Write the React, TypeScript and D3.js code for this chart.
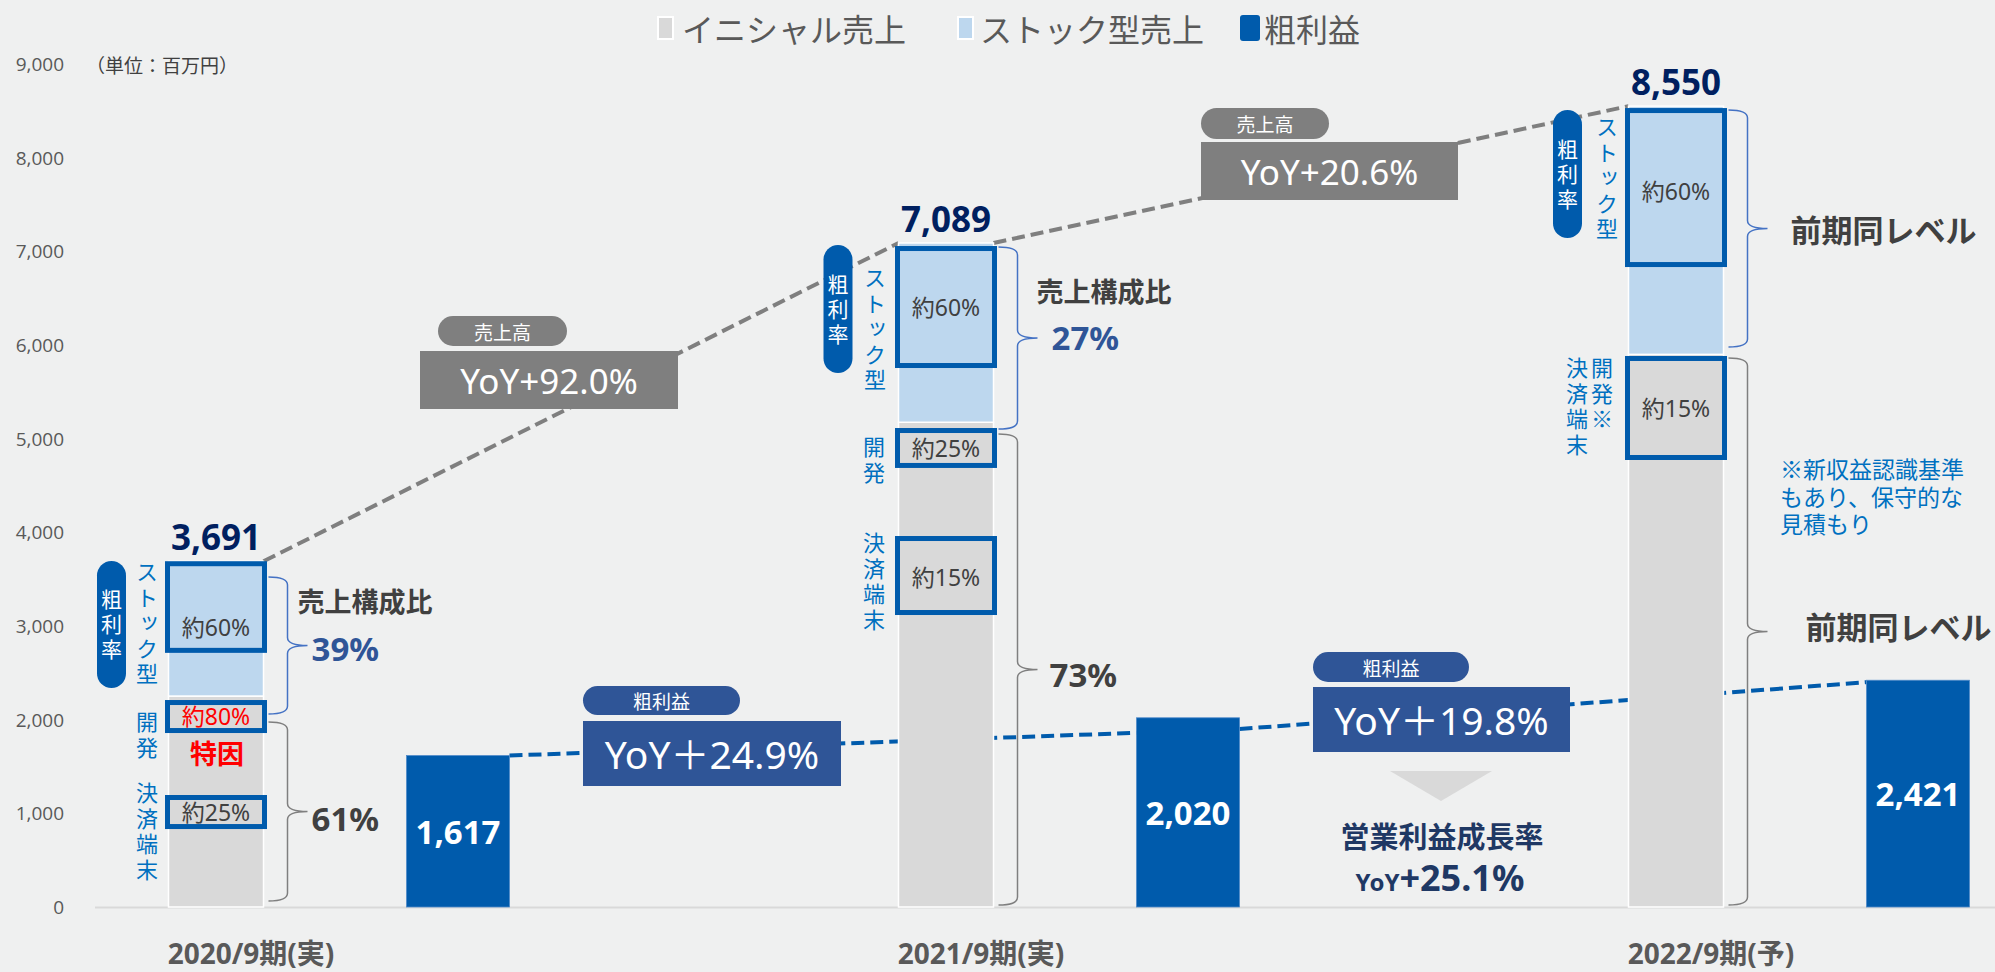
import React from 'react';
import * as d3 from 'd3';

// ---------- data ----------
const categories = ['2020/9期(実)', '2021/9期(実)', '2022/9期(予)'];
const initialSales = [2252, 5175, 5900];
const stockSales = [1439, 1914, 2650];
const totalSales = [3691, 7089, 8550];
const grossProfit = [1617, 2020, 2421];
const yTicks = [0, 1000, 2000, 3000, 4000, 5000, 6000, 7000, 8000, 9000];
// blue dashed trend between gross profit bars (start / end values of each segment)
const gpTrendStart = [1617, 1900];
const gpTrendEnd = [1860, 2400];

// gross-margin boxes: category index, top/bottom value, label, label value
const marginBoxes = [
  { i: 0, top: 3665, bottom: 2740, label: '約60%', at: 2989, kind: 'stock', red: false },
  { i: 0, top: 2183, bottom: 1884, label: '約80%', at: 2034, kind: 'initial', red: true },
  { i: 0, top: 1169, bottom: 859, label: '約25%', at: 1014, kind: 'initial', red: false },
  { i: 1, top: 7030, bottom: 5781, label: '約60%', at: 6405, kind: 'stock', red: false },
  { i: 1, top: 5087, bottom: 4714, label: '約25%', at: 4900, kind: 'initial', red: false },
  { i: 1, top: 3934, bottom: 3144, label: '約15%', at: 3523, kind: 'initial', red: false },
  { i: 2, top: 8503, bottom: 6859, label: '約60%', at: 7644, kind: 'stock', red: false },
  { i: 2, top: 5856, bottom: 4799, label: '約15%', at: 5327, kind: 'initial', red: false },
];

// vertical blue captions: category index, x offset from bar centre, first char value
const verticalCaptions = [
  { i: 0, dx: -69, at: 3576, text: 'ストック型' },
  { i: 0, dx: -69, at: 1975, text: '開発' },
  { i: 0, dx: -69, at: 1217, text: '決済端末' },
  { i: 1, dx: -71, at: 6715, text: 'ストック型' },
  { i: 1, dx: -72, at: 4911, text: '開発' },
  { i: 1, dx: -72, at: 3886, text: '決済端末' },
  { i: 2, dx: -69, at: 8327, text: 'ストック型' },
  { i: 2, dx: -74, at: 5754, text: '開発※' },
  { i: 2, dx: -99, at: 5754, text: '決済端末' },
];

// 粗利率 pills: category index, x offset, top / bottom value
const marginPills = [
  { i: 0, dx: -104.5, top: 3694, bottom: 2338 },
  { i: 1, dx: -108, top: 7067, bottom: 5701 },
  { i: 2, dx: -108.5, top: 8509, bottom: 7142 },
];

// braces: category index, top / bottom value, kind
const braces = [
  { i: 0, top: 3523, bottom: 2060, kind: 'stock' },
  { i: 0, top: 1975, bottom: 64, kind: 'initial' },
  { i: 1, top: 7046, bottom: 5103, kind: 'stock' },
  { i: 1, top: 5050, bottom: 21, kind: 'initial' },
  { i: 2, top: 8509, bottom: 5978, kind: 'stock' },
  { i: 2, top: 5861, bottom: 21, kind: 'initial' },
];

// brace texts: category index, x offset from bar right edge, value (vertical centre)
const braceTexts = [
  { i: 0, dx: 34, at: 3277, text: '売上構成比', kind: 'title' },
  { i: 0, dx: 48, at: 2765, text: '39%', kind: 'stockPct' },
  { i: 0, dx: 48, at: 950, text: '61%', kind: 'initPct' },
  { i: 1, dx: 43, at: 6587, text: '売上構成比', kind: 'title' },
  { i: 1, dx: 58, at: 6075, text: '27%', kind: 'stockPct' },
  { i: 1, dx: 56, at: 2487, text: '73%', kind: 'initPct' },
  { i: 2, dx: 67, at: 7249, text: '前期同レベル', kind: 'level' },
  { i: 2, dx: 82, at: 3010, text: '前期同レベル', kind: 'level' },
];
const noteLines = ['※新収益認識基準', 'もあり、保守的な', '見積もり'];

const callouts = [
  { pill: [438, 316, 129, 30], box: [420, 351, 258, 58], tag: '売上高', text: 'YoY+92.0%', color: '#7f7f7f', fs: 35 },
  { pill: [1201, 108, 128, 31], box: [1201, 142, 257, 58], tag: '売上高', text: 'YoY+20.6%', color: '#7f7f7f', fs: 35 },
  { pill: [583, 686, 157, 29], box: [583, 721, 258, 65], tag: '粗利益', text: 'YoY＋24.9%', color: '#2F5597', fs: 39 },
  { pill: [1313, 652, 156, 30], box: [1313, 687, 257, 65], tag: '粗利益', text: 'YoY＋19.8%', color: '#2F5597', fs: 39 },
];

const legendItems = [
  { label: 'イニシャル売上', color: '#d9d9d9' },
  { label: 'ストック型売上', color: '#bdd7ee' },
  { label: '粗利益', color: '#005BAC' },
];

// ---------- style ----------
const W = 1995;
const H = 972;
const BG = '#eff0f0';
const GRAY = '#d9d9d9';
const LIGHT = '#bdd7ee';
const DARK = '#005BAC';
const NAVY = '#002060';
const JP = '"Noto Sans CJK JP", "Noto Sans", sans-serif';
const LAT = '"Noto Sans", "Noto Sans CJK JP", sans-serif';

export default function App() {
  const y = d3.scaleLinear().domain([0, 9000]).range([907, 64]);
  const x = d3.scalePoint<string>().domain(categories).range([216, 1676]);
  const stackW = 95;
  const gpOffset = 242;
  const gpW = 103;

  const rows = categories.map((c, i) => ({ cat: c, initial: initialSales[i], stock: stockSales[i] }));
  const series = d3.stack<any>().keys(['initial', 'stock'])(rows);
  const cx = (i: number) => x(categories[i]) as number;
  const gx = (i: number) => cx(i) + gpOffset;

  const line = d3.line<[number, number]>();

  const salesSegs = d3.range(categories.length - 1).map((i) =>
    line([
      [cx(i) + stackW / 2, y(totalSales[i])],
      [cx(i + 1) - stackW / 2, y(totalSales[i + 1])],
    ])
  );
  const gpSegs = d3.range(categories.length - 1).map((i) =>
    line([
      [gx(i) + gpW / 2, y(gpTrendStart[i])],
      [gx(i + 1) - gpW / 2, y(gpTrendEnd[i])],
    ])
  );

  const bracePath = (x0: number, yt: number, yb: number) => {
    const x1 = x0 + 19;
    const x2 = x0 + 39;
    const r = 8;
    const ym = (yt + yb) / 2;
    return `M${x0},${yt} Q${x1},${yt} ${x1},${yt + r} L${x1},${ym - r} Q${x1},${ym} ${x2},${ym} Q${x1},${ym} ${x1},${ym + r} L${x1},${yb - r} Q${x1},${yb} ${x0},${yb}`;
  };

  const legendX = [658, 958, 1240];
  const legendTx = [682, 980, 1264];

  const vFs = 22;
  const vStep = 25.5;

  return (
    <div style={{ position: 'absolute', left: 0, top: 0, width: W, height: H }}>
      <svg width={W} height={H} style={{ display: 'block' }}>
        <rect x={0} y={0} width={W} height={H} fill={BG} />

        {/* legend */}
        {legendItems.map((d, k) => (
          <g key={k}>
            {k < 2 ? (
              <rect x={legendX[k]} y={17} width={15} height={22} fill={d.color} stroke="#fff" strokeWidth={2} />
            ) : (
              <rect x={legendX[k]} y={15} width={20} height={26} rx={3} fill={d.color} />
            )}
            <text x={legendTx[k]} y={28} fontSize={32} fontFamily={JP} fill="#595959" dominantBaseline="central">
              {d.label}
            </text>
          </g>
        ))}

        {/* y axis labels */}
        {yTicks.map((t) => (
          <text key={t} x={64} y={y(t)} textAnchor="end" dominantBaseline="central" fontSize={19} fontFamily='"Open Sans", sans-serif' fill="#595959">
            {d3.format(',')(t)}
          </text>
        ))}
        <text x={86} y={y(9000)} dominantBaseline="central" fontSize={19} fontFamily={JP} fill="#404040">
          （単位：百万円）
        </text>

        {/* axis line */}
        <line x1={95} x2={W} y1={y(0) + 0.5} y2={y(0) + 0.5} stroke="#d9d9d9" strokeWidth={2} />

        {/* dashed series lines */}
        {salesSegs.map((p, k) => (
          <path key={'s' + k} d={p || ''} stroke="#7f7f7f" strokeWidth={4} strokeDasharray="13,6" fill="none" />
        ))}
        {gpSegs.map((p, k) => (
          <path key={'g' + k} d={p || ''} stroke={DARK} strokeWidth={4} strokeDasharray="13,6" fill="none" />
        ))}

        {/* stacked sales bars */}
        {series.map((s, si) =>
          s.map((d, i) => (
            <rect
              key={si + '-' + i}
              x={cx(i) - stackW / 2}
              y={y(d[1])}
              width={stackW}
              height={y(d[0]) - y(d[1])}
              fill={si === 0 ? GRAY : LIGHT}
              stroke="#fff"
              strokeWidth={1.5}
            />
          ))
        )}

        {/* gross profit bars */}
        {grossProfit.map((v, i) => (
          <g key={'gp' + i}>
            <rect x={gx(i) - gpW / 2} y={y(v)} width={gpW} height={y(0) - y(v)} fill={DARK} stroke="#4f8ac9" strokeWidth={0.8} />
            <text x={gx(i)} y={(y(v) + y(0)) / 2} textAnchor="middle" dominantBaseline="central" fontSize={33} fontWeight="bold" fontFamily={LAT} fill="#fff">
              {d3.format(',')(v)}
            </text>
          </g>
        ))}

        {/* total labels */}
        {totalSales.map((v, i) => (
          <text key={'t' + i} x={cx(i)} y={y(v) - 11} textAnchor="middle" fontSize={35} fontWeight="bold" fontFamily={LAT} fill={NAVY}>
            {d3.format(',')(v)}
          </text>
        ))}

        {/* margin boxes */}
        {marginBoxes.map((b, k) => (
          <g key={'mb' + k}>
            <rect
              x={cx(b.i) - stackW / 2 - 1}
              y={y(b.top)}
              width={stackW + 2}
              height={y(b.bottom) - y(b.top)}
              fill={b.kind === 'stock' ? LIGHT : GRAY}
              stroke={DARK}
              strokeWidth={5}
            />
            <text x={cx(b.i)} y={y(b.at)} textAnchor="middle" dominantBaseline="central" fontSize={23} fontFamily={LAT} fill={b.red ? '#ff0000' : '#404040'}>
              {b.label}
            </text>
          </g>
        ))}
        <text x={cx(0) + 1} y={752} textAnchor="middle" dominantBaseline="central" fontSize={27} fontWeight="bold" fontFamily={JP} fill="#ff0000">
          特因
        </text>

        {/* vertical captions */}
        {verticalCaptions.map((c, k) => (
          <text
            key={'vc' + k}
            x={cx(c.i) + c.dx}
            y={y(c.at) - vFs / 2}
            writingMode="vertical-rl"
            style={{ letterSpacing: `${vStep - vFs}px` }}
            fontSize={vFs}
            fontFamily={JP}
            fill="#0070C0"
          >
            {c.text}
          </text>
        ))}

        {/* 粗利率 pills */}
        {marginPills.map((p, k) => {
          const px = cx(p.i) + p.dx;
          const top = y(p.top);
          const bot = y(p.bottom);
          const mid = (top + bot) / 2;
          return (
            <g key={'mp' + k}>
              <rect x={px - 14.5} y={top} width={29} height={bot - top} rx={14.5} fill={DARK} />
              <text
                x={px}
                y={mid - 25 - 10.5}
                writingMode="vertical-rl"
                style={{ letterSpacing: '4px' }}
                fontSize={21}
                fontFamily={JP}
                fill="#fff"
              >
                粗利率
              </text>
            </g>
          );
        })}

        {/* braces */}
        {braces.map((b, k) => (
          <path
            key={'br' + k}
            d={bracePath(cx(b.i) + stackW / 2 + 5, y(b.top), y(b.bottom))}
            fill="none"
            stroke={b.kind === 'stock' ? '#4472C4' : '#7f7f7f'}
            strokeWidth={1.5}
          />
        ))}

        {braceTexts.map((t, k) => {
          const isTitle = t.kind === 'title';
          const isLevel = t.kind === 'level';
          const fill = t.kind === 'stockPct' ? '#2F5597' : '#404040';
          const fs = isTitle ? 27 : isLevel ? 31 : 33;
          return (
            <text
              key={'bt' + k}
              x={cx(t.i) + stackW / 2 + t.dx}
              y={y(t.at)}
              dominantBaseline="central"
              fontSize={fs}
              fontWeight="bold"
              fontFamily={isTitle || isLevel ? JP : LAT}
              fill={fill}
            >
              {t.text}
            </text>
          );
        })}

        <text x={1780} y={478} fontSize={23} fontFamily={JP} fill="#0070C0">
          {noteLines.map((l, k) => (
            <tspan key={k} x={1780} dy={k === 0 ? 0 : 27.5}>
              {l}
            </tspan>
          ))}
        </text>

        {/* callouts */}
        {callouts.map((c, k) => (
          <g key={'c' + k}>
            <rect x={c.pill[0]} y={c.pill[1]} width={c.pill[2]} height={c.pill[3]} rx={c.pill[3] / 2} fill={c.color} />
            <text x={c.pill[0] + c.pill[2] / 2} y={c.pill[1] + c.pill[3] / 2} textAnchor="middle" dominantBaseline="central" fontSize={19} fontFamily={JP} fill="#fff">
              {c.tag}
            </text>
            <rect x={c.box[0]} y={c.box[1]} width={c.box[2]} height={c.box[3]} fill={c.color} />
            <text x={c.box[0] + c.box[2] / 2} y={c.box[1] + c.box[3] / 2} textAnchor="middle" dominantBaseline="central" fontSize={c.fs} fontFamily={LAT} fill="#fff">
              {c.text}
            </text>
          </g>
        ))}

        {/* operating profit growth */}
        <path d="M1390,771 L1492,771 L1441,801 Z" fill="#d9d9d9" />
        <text x={1442} y={835} textAnchor="middle" dominantBaseline="central" fontSize={29} fontWeight="bold" fontFamily={JP} fill="#1F3864">
          営業利益成長率
        </text>
        <text x={1440} y={891} textAnchor="middle" fontWeight="bold" fontFamily={LAT} fill="#1F3864">
          <tspan fontSize={24}>YoY</tspan>
          <tspan fontSize={36}>+25.1%</tspan>
        </text>

        {/* category labels */}
        {categories.map((c) => (
          <text key={c} x={(x(c) as number) + 35} y={953} textAnchor="middle" dominantBaseline="central" fontSize={28} fontWeight="bold" fontFamily={LAT} fill="#595959">
            {c}
          </text>
        ))}
      </svg>
    </div>
  );
}
